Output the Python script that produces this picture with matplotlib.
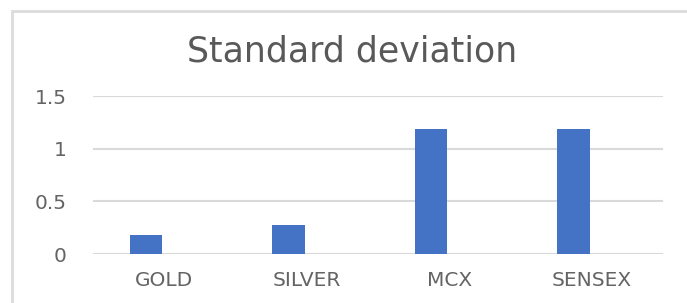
import matplotlib
matplotlib.use("Agg")
import matplotlib.pyplot as plt
from matplotlib.patches import Rectangle
import numpy as np

# values
categories = ["GOLD", "SILVER", "MCX", "SENSEX"]
std_dev = [0.18, 0.28, 1.19, 1.19]
y_ticks = [0, 0.5, 1, 1.5]
y_tick_labels = ["0", "0.5", "1", "1.5"]

W, H = 687, 303
fig = plt.figure(figsize=(W / 100, H / 100), dpi=100)
fig.patch.set_facecolor("white")

# light chart-area border (cut off on right and bottom like the screenshot)
fig.patches.append(Rectangle((12 / W, -0.1), 1.2, (H - 11) / H + 0.1,
                             transform=fig.transFigure, fill=False,
                             edgecolor="#dcdcdc", linewidth=2.0))

ax = fig.add_axes([93 / W, (H - 254) / H, 570 / W, 158 / H])
x = np.arange(len(categories))
ax.bar(x - 0.128, std_dev, width=0.225, color="#4472C4", zorder=3)

ax.set_xlim(-0.5, len(categories) - 0.5)
ax.set_ylim(0, 1.5)
ax.set_yticks(y_ticks)
ax.set_yticklabels(y_tick_labels)
ax.set_xticks(x)
ax.set_xticklabels(categories)
ax.yaxis.grid(True, color="#d9d9d9", linewidth=1.5, zorder=0)
ax.set_axisbelow(True)
for s in ax.spines.values():
    s.set_visible(False)
ax.tick_params(axis="both", length=0, labelcolor="#646464", labelsize=14.5)
ax.tick_params(axis="y", pad=19)
ax.tick_params(axis="x", pad=12)

fig.text(352 / W, 1 - 52 / H, "Standard deviation", ha="center", va="center",
         fontsize=25, color="#595959")

fig.savefig("out.png", dpi=100)
